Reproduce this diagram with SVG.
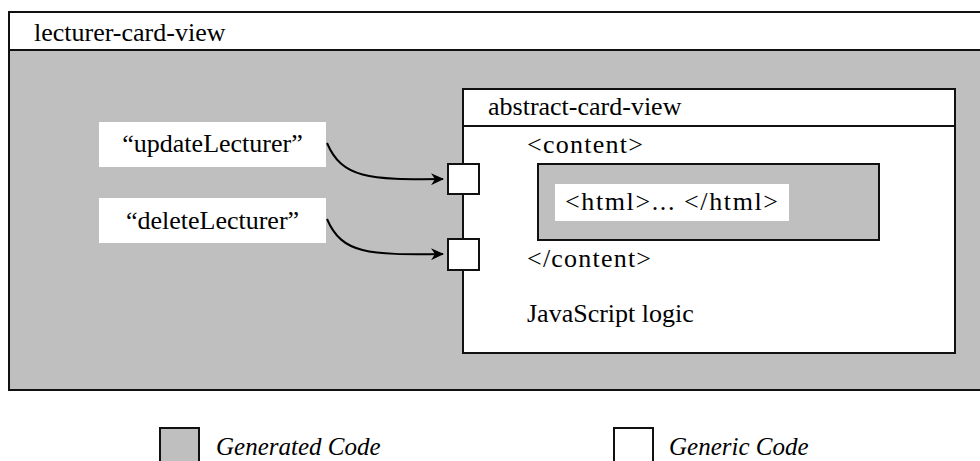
<svg xmlns="http://www.w3.org/2000/svg" width="980" height="461" viewBox="0 0 980 461">
<style>
text{font-family:"Liberation Serif","Times New Roman",serif;font-size:26px;fill:#000}
.it{font-style:italic;font-size:25px}
.box{stroke:#111;stroke-width:2}
.gray{fill:#bfbfbf}
.white{fill:#fff}
.conn{fill:none;stroke:#000;stroke-width:2}
</style>
<defs>
<marker id="arr" markerWidth="14" markerHeight="12" refX="12" refY="6" orient="auto" markerUnits="userSpaceOnUse">
<path d="M0,0 L13,6 L0,12 L4,6 Z" fill="#000"/>
</marker>
</defs>
<g id="lecturer-card-view">
<rect x="9" y="12" width="985" height="378" class="box gray"/>
<rect x="10" y="13" width="983" height="37" class="white"/>
<line x1="9" y1="50" x2="994" y2="50" class="box"/>
<text x="34" y="41">lecturer-card-view</text>
</g>
<g id="abstract-card-view">
<rect x="463" y="89" width="492" height="264" class="box white"/>
<line x1="463" y1="126" x2="955" y2="126" class="box"/>
<text x="488" y="115">abstract-card-view</text>
<text x="527" y="153" textLength="116">&lt;content&gt;</text>
<text x="527" y="267" textLength="124">&lt;/content&gt;</text>
<text x="527" y="322">JavaScript logic</text>
</g>
<g id="html-content">
<rect x="538" y="164" width="341" height="76" class="box gray"/>
<rect x="555" y="184" width="234" height="37" class="white"/>
<text x="565" y="210" textLength="213">&lt;html&gt;... &lt;/html&gt;</text>
</g>
<g id="port-update">
<rect x="448" y="164" width="31" height="30" class="box white"/>
</g>
<g id="port-delete">
<rect x="448" y="239" width="31" height="31" class="box white"/>
</g>
<g id="label-update">
<rect x="99" y="122" width="227" height="45" class="white"/>
<text x="212.5" y="152" text-anchor="middle">“updateLecturer”</text>
</g>
<g id="label-delete">
<rect x="99" y="198" width="227" height="45" class="white"/>
<text x="212.5" y="229" text-anchor="middle">“deleteLecturer”</text>
</g>
<g id="connectors">
<path d="M327,143 C342,178 368,180 443,179" class="conn" marker-end="url(#arr)"/>
<path d="M327,219 C342,254 368,255 443,254" class="conn" marker-end="url(#arr)"/>
</g>
<g id="legend-generated">
<rect x="160" y="428" width="39" height="40" class="box gray"/>
<text x="216" y="455" class="it">Generated Code</text>
</g>
<g id="legend-generic">
<rect x="614" y="428" width="39" height="40" class="box white"/>
<text x="669" y="455" class="it">Generic Code</text>
</g>
</svg>
